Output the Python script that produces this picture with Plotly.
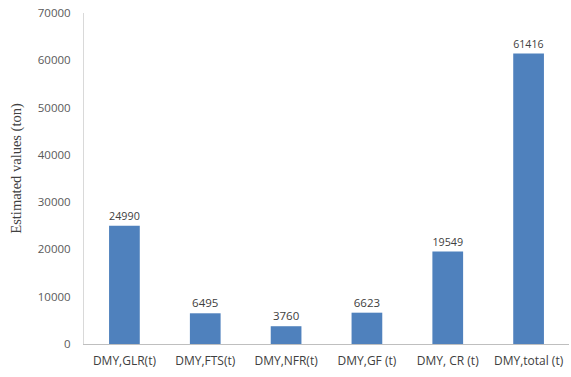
import plotly.graph_objects as go

categories = ["DMY,GLR(t)", "DMY,FTS(t)", "DMY,NFR(t)", "DMY,GF (t)", "DMY, CR (t)", "DMY,total (t)"]
values = [24990, 6495, 3760, 6623, 19549, 61416]
y_ticks = [0, 10000, 20000, 30000, 40000, 50000, 60000, 70000]

fig = go.Figure(go.Bar(
    x=categories, y=values,
    marker=dict(color="#4F81BD", line=dict(width=0)),
    text=[str(v) for v in values], textposition="outside",
    textfont=dict(family="Open Sans, DejaVu Sans", size=11.5, color="#404040"),
    cliponaxis=False,
))
fig.update_layout(
    width=571, height=377,
    margin=dict(l=84, r=2, t=13, b=33),
    paper_bgcolor="white", plot_bgcolor="white",
    bargap=0.62, showlegend=False,
    font=dict(family="Open Sans, DejaVu Sans", size=11, color="#595959"),
)
fig.update_xaxes(showline=True, linecolor="#BFBFBF", linewidth=1, ticks="", showgrid=False,
                 tickfont=dict(size=12, color="#404040"), ticklabelstandoff=6)
fig.update_yaxes(range=[0, 70000], tickvals=y_ticks, ticktext=[str(t) for t in y_ticks],
                 showgrid=False, zeroline=False,
                 showline=True, linecolor="#D9D9D9", linewidth=1, ticks="",
                 tickfont=dict(size=11.5, color="#595959"), ticklabelstandoff=10)
fig.add_annotation(text="Estimated values (ton)", textangle=-90, showarrow=False,
                   xref="paper", yref="paper", x=-0.14, y=0.53, xanchor="center", yanchor="middle",
                   font=dict(family="Liberation Serif, Times New Roman", size=14.5, color="#404040"))
fig.write_html("out.html")
